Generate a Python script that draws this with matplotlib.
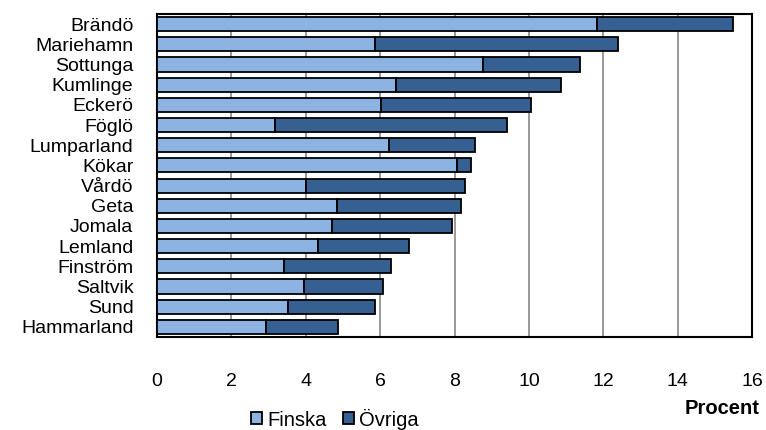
import matplotlib.pyplot as plt
import numpy as np

plt.rcParams['font.family'] = ['Liberation Sans', 'DejaVu Sans']

kommuner = ["Brändö", "Mariehamn", "Sottunga", "Kumlinge", "Eckerö", "Föglö",
            "Lumparland", "Kökar", "Vårdö", "Geta", "Jomala", "Lemland",
            "Finström", "Saltvik", "Sund", "Hammarland"]
finska = [11.84, 5.85, 8.77, 6.44, 6.02, 3.16, 6.23, 8.07,
          4.02, 4.83, 4.71, 4.34, 3.42, 3.95, 3.53, 2.93]
totalt = [15.5, 12.39, 11.37, 10.87, 10.06, 9.42, 8.56, 8.45,
          8.28, 8.17, 7.92, 6.77, 6.29, 6.07, 5.86, 4.88]
ovriga = [t - f for t, f in zip(totalt, finska)]

fig = plt.figure(figsize=(7.66, 4.30), dpi=100)
ax = fig.add_axes([157 / 766, 1 - 337 / 430, (752 - 157) / 766, (337 - 14) / 430])

y = np.arange(len(kommuner))
ax.barh(y, finska, height=0.7, color="#8DB3E2", edgecolor="black", linewidth=1.3,
        label="Finska", zorder=3)
ax.barh(y, ovriga, left=finska, height=0.7, color="#366092", edgecolor="black",
        linewidth=1.3, label="Övriga", zorder=3)

ax.set_ylim(len(kommuner) - 0.5, -0.5)
ax.set_yticks(y)
ax.set_yticklabels(kommuner, fontsize=14)
ax.set_xlim(0, 16)
ax.set_xticks(range(0, 17, 2))
ax.tick_params(axis="x", labelsize=14, length=0, pad=26)
ax.tick_params(axis="y", length=0, pad=17)
ax.grid(axis="x", color="#888888", linewidth=1.2, zorder=0)
for s in ax.spines.values():
    s.set_linewidth(1.5)

fig.text(760 / 766, 1 - 408 / 430, "Procent", fontsize=14.5, fontweight="bold",
         ha="right", va="center")
fig.legend(loc="center", bbox_to_anchor=(335 / 766, 1 - 419 / 430), ncol=2,
           frameon=False, fontsize=14.5, handlelength=0.55, handleheight=0.55,
           handletextpad=0.25, columnspacing=0.8, borderpad=0)

fig.savefig("out.png", dpi=100)
